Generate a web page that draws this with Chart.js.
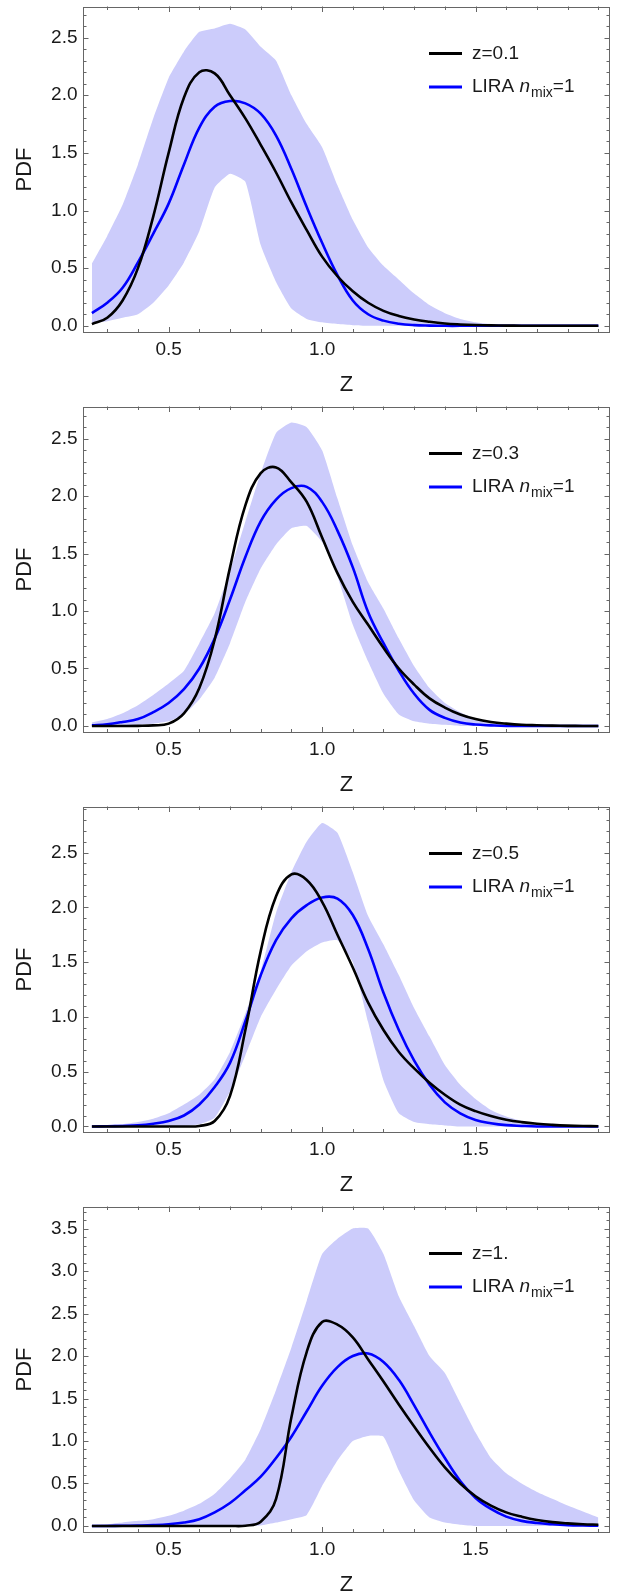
<!DOCTYPE html>
<html>
<head>
<meta charset="utf-8">
<script src="https://cdn.jsdelivr.net/npm/chart.js@4.4.0/dist/chart.umd.min.js"></script>
<style>
  body { margin: 0; background: #fff; }
  .panel { position: absolute; left: 0; width: 620px; height: 400px; }
</style>
</head>
<body>
<div class="panel" style="top:0px"><canvas id="c1" width="620" height="400"></canvas></div>
<div class="panel" style="top:400px"><canvas id="c2" width="620" height="400"></canvas></div>
<div class="panel" style="top:800px"><canvas id="c3" width="620" height="400"></canvas></div>
<div class="panel" style="top:1200px"><canvas id="c4" width="620" height="400"></canvas></div>
<script>
// metallicity grid shared by every curve
const zGrid = [0.25, 0.30, 0.35, 0.40, 0.45, 0.50, 0.55, 0.60, 0.65, 0.70, 0.75, 0.80,
  0.85, 0.90, 0.95, 1.00, 1.05, 1.10, 1.15, 1.20, 1.25, 1.30, 1.35, 1.40, 1.45, 1.50,
  1.55, 1.60, 1.65, 1.70, 1.75, 1.80, 1.85, 1.90];

const redshiftLabels = ['z=0.1', 'z=0.3', 'z=0.5', 'z=1.'];
const modelLabel = 'LIRA n_mix=1';
const xTicks = [0.5, 1.0, 1.5];
const yTicksLow = [0, 0.5, 1.0, 1.5, 2.0, 2.5];
const yTicksHigh = [0, 0.5, 1.0, 1.5, 2.0, 2.5, 3.0, 3.5];

// z = 0.1
const black1 = [0.015, 0.07, 0.22, 0.5, 0.95, 1.5, 1.98, 2.2, 2.19, 2.0, 1.8, 1.57, 1.33, 1.07, 0.83, 0.6, 0.43, 0.3, 0.2, 0.13, 0.085, 0.055, 0.035, 0.02, 0.012, 0.007, 0.004, 0.002, 0.001, 0, 0, 0, 0, 0];
const blue1 = [0.11, 0.2, 0.33, 0.55, 0.8, 1.06, 1.4, 1.72, 1.9, 1.95, 1.93, 1.84, 1.65, 1.36, 1.03, 0.72, 0.44, 0.22, 0.1, 0.045, 0.018, 0.006, 0.002, 0, 0, 0, 0, 0, 0, 0, 0, 0, 0, 0];
const upper1 = [0.54, 0.78, 1.05, 1.4, 1.8, 2.15, 2.38, 2.55, 2.58, 2.62, 2.57, 2.42, 2.3, 2.0, 1.75, 1.55, 1.22, 0.92, 0.68, 0.52, 0.4, 0.28, 0.18, 0.11, 0.06, 0.03, 0.015, 0.005, 0, 0, 0, 0, 0, 0];
const lower1 = [0.02, 0.04, 0.07, 0.1, 0.2, 0.35, 0.55, 0.82, 1.2, 1.32, 1.25, 0.7, 0.38, 0.15, 0.06, 0.03, 0.015, 0.005, 0, 0, 0, 0, 0, 0, 0, 0, 0, 0, 0, 0, 0, 0, 0, 0];

// z = 0.3
const black2 = [0, 0, 0, 0.001, 0.005, 0.02, 0.11, 0.33, 0.75, 1.38, 1.92, 2.2, 2.25, 2.12, 1.95, 1.64, 1.33, 1.08, 0.88, 0.68, 0.5, 0.36, 0.24, 0.16, 0.1, 0.06, 0.035, 0.02, 0.01, 0.006, 0.003, 0.001, 0, 0];
const blue2 = [0.005, 0.015, 0.035, 0.06, 0.12, 0.2, 0.32, 0.5, 0.76, 1.1, 1.47, 1.78, 1.97, 2.07, 2.08, 1.95, 1.7, 1.38, 0.99, 0.72, 0.48, 0.28, 0.14, 0.07, 0.03, 0.012, 0.005, 0, 0, 0, 0, 0, 0, 0];
const upper2 = [0.03, 0.06, 0.11, 0.18, 0.27, 0.37, 0.48, 0.72, 0.98, 1.35, 1.78, 2.2, 2.55, 2.64, 2.6, 2.4, 1.98, 1.57, 1.25, 1.02, 0.76, 0.52, 0.33, 0.2, 0.12, 0.06, 0.03, 0.01, 0, 0, 0, 0, 0, 0];
const lower2 = [0, 0, 0.005, 0.01, 0.02, 0.04, 0.1, 0.23, 0.42, 0.72, 1.08, 1.37, 1.58, 1.72, 1.74, 1.6, 1.3, 0.88, 0.56, 0.28, 0.1, 0.04, 0.02, 0.01, 0, 0, 0, 0, 0, 0, 0, 0, 0, 0];

// z = 0.5
const black3 = [0, 0, 0, 0, 0, 0, 0, 0.005, 0.05, 0.28, 0.88, 1.6, 2.1, 2.3, 2.25, 2.05, 1.75, 1.45, 1.13, 0.88, 0.68, 0.53, 0.4, 0.29, 0.2, 0.14, 0.095, 0.062, 0.04, 0.025, 0.015, 0.008, 0.004, 0.002];
const blue3 = [0, 0.002, 0.005, 0.01, 0.025, 0.05, 0.1, 0.2, 0.36, 0.58, 0.96, 1.38, 1.7, 1.9, 2.02, 2.09, 2.08, 1.93, 1.62, 1.22, 0.88, 0.6, 0.38, 0.22, 0.12, 0.06, 0.03, 0.012, 0.005, 0, 0, 0, 0, 0];
const upper3 = [0.005, 0.01, 0.02, 0.04, 0.07, 0.12, 0.2, 0.29, 0.43, 0.68, 1.03, 1.42, 1.95, 2.32, 2.6, 2.77, 2.68, 2.32, 1.92, 1.66, 1.38, 1.08, 0.82, 0.56, 0.38, 0.25, 0.15, 0.09, 0.05, 0.025, 0.01, 0, 0, 0];
const lower3 = [0, 0, 0, 0, 0, 0, 0.005, 0.02, 0.08, 0.32, 0.65, 1.0, 1.25, 1.47, 1.6, 1.68, 1.7, 1.5, 0.95, 0.42, 0.12, 0.04, 0.02, 0.01, 0, 0, 0, 0, 0, 0, 0, 0, 0, 0];

// z = 1
const black4 = [0, 0, 0, 0, 0, 0, 0, 0, 0, 0, 0.003, 0.05, 0.32, 1.28, 2.05, 2.4, 2.37, 2.22, 1.96, 1.7, 1.43, 1.17, 0.92, 0.69, 0.5, 0.35, 0.24, 0.16, 0.11, 0.07, 0.045, 0.03, 0.02, 0.015];
const blue4 = [0, 0, 0.002, 0.005, 0.01, 0.02, 0.04, 0.08, 0.16, 0.27, 0.42, 0.58, 0.8, 1.05, 1.35, 1.65, 1.87, 2.0, 2.03, 1.93, 1.72, 1.42, 1.1, 0.8, 0.53, 0.33, 0.2, 0.11, 0.06, 0.035, 0.02, 0.01, 0.005, 0.002];
const upper4 = [0.01, 0.02, 0.04, 0.06, 0.08, 0.12, 0.18, 0.26, 0.38, 0.56, 0.78, 1.14, 1.6, 2.1, 2.65, 3.2, 3.38, 3.5, 3.5, 3.2, 2.7, 2.35, 2.0, 1.8, 1.45, 1.1, 0.8, 0.62, 0.5, 0.4, 0.32, 0.24, 0.17, 0.1];
const lower4 = [0, 0, 0, 0, 0, 0, 0, 0, 0, 0, 0, 0.005, 0.04, 0.08, 0.13, 0.47, 0.77, 1.0, 1.06, 1.05, 0.65, 0.3, 0.1, 0.04, 0.015, 0, 0, 0, 0, 0, 0, 0, 0, 0];

const FONT = "'Liberation Sans', Arial, Helvetica, sans-serif";
const FRAME = '#666666';
const TEXT = '#1a1a1a';

// Mathematica-style frame with inward ticks on all four sides
const frameTicks = {
    id: 'frameTicks',
    afterDatasetsDraw(chart) {
        const { ctx, chartArea: a, scales } = chart;
        const xs = scales.x, ys = scales.y;
        ctx.save();
        ctx.strokeStyle = FRAME;
        ctx.lineWidth = 1;
        ctx.beginPath();
        for (let k = Math.ceil(xs.min * 10); k <= Math.floor(xs.max * 10); k++) {
            const px = Math.round(xs.getPixelForValue(k / 10)) + 0.5;
            const len = k % 5 === 0 ? 5.5 : 3.5;
            ctx.moveTo(px, a.bottom); ctx.lineTo(px, a.bottom - len);
            ctx.moveTo(px, a.top); ctx.lineTo(px, a.top + len);
        }
        for (let k = Math.ceil(ys.min * 10); k <= Math.floor(ys.max * 10); k++) {
            const py = Math.round(ys.getPixelForValue(k / 10)) + 0.5;
            const len = k % 5 === 0 ? 5.5 : 3.5;
            ctx.moveTo(a.left, py); ctx.lineTo(a.left + len, py);
            ctx.moveTo(a.right, py); ctx.lineTo(a.right - len, py);
        }
        ctx.stroke();
        ctx.strokeRect(Math.round(a.left) + 0.5, Math.round(a.top) + 0.5,
            Math.round(a.right - a.left) - 1, Math.round(a.bottom - a.top) - 1);
        ctx.restore();
    }
};

// legend with italic n and subscript "mix"
function drawLabel(ctx, text, x, y) {
    const m = text.match(/^(.*?)(\w)_(\w+)(.*)$/);
    ctx.fillStyle = TEXT;
    ctx.textBaseline = 'middle';
    ctx.textAlign = 'left';
    ctx.font = '19px ' + FONT;
    if (!m) { ctx.fillText(text, x, y); return; }
    ctx.fillText(m[1], x, y);
    x += ctx.measureText(m[1]).width;
    ctx.font = 'italic 19px ' + FONT;
    ctx.fillText(m[2], x, y);
    x += ctx.measureText(m[2]).width + 1;
    ctx.font = '14px ' + FONT;
    ctx.fillText(m[3], x, y + 6);
    x += ctx.measureText(m[3]).width;
    ctx.font = '19px ' + FONT;
    ctx.fillText(m[4], x, y);
}

const richLegend = {
    id: 'richLegend',
    afterDraw(chart) {
        const { ctx, chartArea: a } = chart;
        const ds = chart.data.datasets;
        ctx.save();
        [0, 1].forEach(i => {
            const yRow = a.top + 47 + i * 33.5;
            ctx.strokeStyle = ds[i].borderColor;
            ctx.lineWidth = 3;
            ctx.beginPath();
            ctx.moveTo(a.right - 181, yRow);
            ctx.lineTo(a.right - 148, yRow);
            ctx.stroke();
            drawLabel(ctx, ds[i].label, a.right - 138, yRow);
        });
        ctx.restore();
    }
};

function makeChart(id, label, black, blue, upper, lower, yMin, yMax, yTicks) {
    const pts = arr => zGrid.map((z, i) => ({ x: z, y: arr[i] }));
    const lineStyle = { pointRadius: 0, borderWidth: 2.6, tension: 0.4, fill: false };
    new Chart(document.getElementById(id), {
        type: 'line',
        data: {
            datasets: [
                Object.assign({ label: label, data: pts(black), borderColor: '#000000' }, lineStyle),
                Object.assign({ label: modelLabel, data: pts(blue), borderColor: '#0000ff' }, lineStyle),
                { label: 'upper', data: pts(upper), borderColor: 'rgba(0,0,0,0)', backgroundColor: '#ccccfb',
                  pointRadius: 0, tension: 0.15, fill: '+1' },
                { label: 'lower', data: pts(lower), borderColor: 'rgba(0,0,0,0)',
                  pointRadius: 0, tension: 0.15, fill: false }
            ]
        },
        options: {
            responsive: false,
            animation: false,
            layout: { padding: { top: 6.5, right: 10, bottom: 0, left: 0 } },
            plugins: { legend: { display: false }, tooltip: { enabled: false } },
            scales: {
                x: {
                    type: 'linear', bounds: 'data', min: 0.221, max: 1.938,
                    grid: { display: false, drawTicks: false }, border: { display: false },
                    afterBuildTicks: s => { s.ticks = xTicks.map(v => ({ value: v })); },
                    afterFit: s => { s.height = 67.5; s.paddingLeft = 0; s.paddingRight = 0; },
                    ticks: { padding: 6, color: TEXT, font: { family: FONT, size: 19 }, maxRotation: 0,
                             autoSkip: false, callback: v => Number(v).toFixed(1) },
                    title: { display: true, text: 'Z', color: TEXT, font: { family: FONT, size: 22 },
                             padding: { top: 0, bottom: 2 } }
                },
                y: {
                    type: 'linear', bounds: 'data', min: yMin, max: yMax,
                    grid: { display: false, drawTicks: false }, border: { display: false },
                    afterBuildTicks: s => { s.ticks = yTicks.map(v => ({ value: v })); },
                    afterFit: s => { s.width = 83; s.paddingTop = 0; s.paddingBottom = 0; },
                    ticks: { padding: 5.5, color: TEXT, font: { family: FONT, size: 19 },
                             callback: v => Number(v).toFixed(1) },
                    title: { display: true, text: 'PDF', color: TEXT, font: { family: FONT, size: 22 },
                             padding: { top: 12, bottom: 0 } }
                }
            }
        },
        plugins: [frameTicks, richLegend]
    });
}

makeChart('c1', redshiftLabels[0], black1, blue1, upper1, lower1, -0.058, 2.77, yTicksLow);
makeChart('c2', redshiftLabels[1], black2, blue2, upper2, lower2, -0.057, 2.78, yTicksLow);
makeChart('c3', redshiftLabels[2], black3, blue3, upper3, lower3, -0.055, 2.92, yTicksLow);
makeChart('c4', redshiftLabels[3], black4, blue4, upper4, lower4, -0.077, 3.76, yTicksHigh);
</script>
</body>
</html>
